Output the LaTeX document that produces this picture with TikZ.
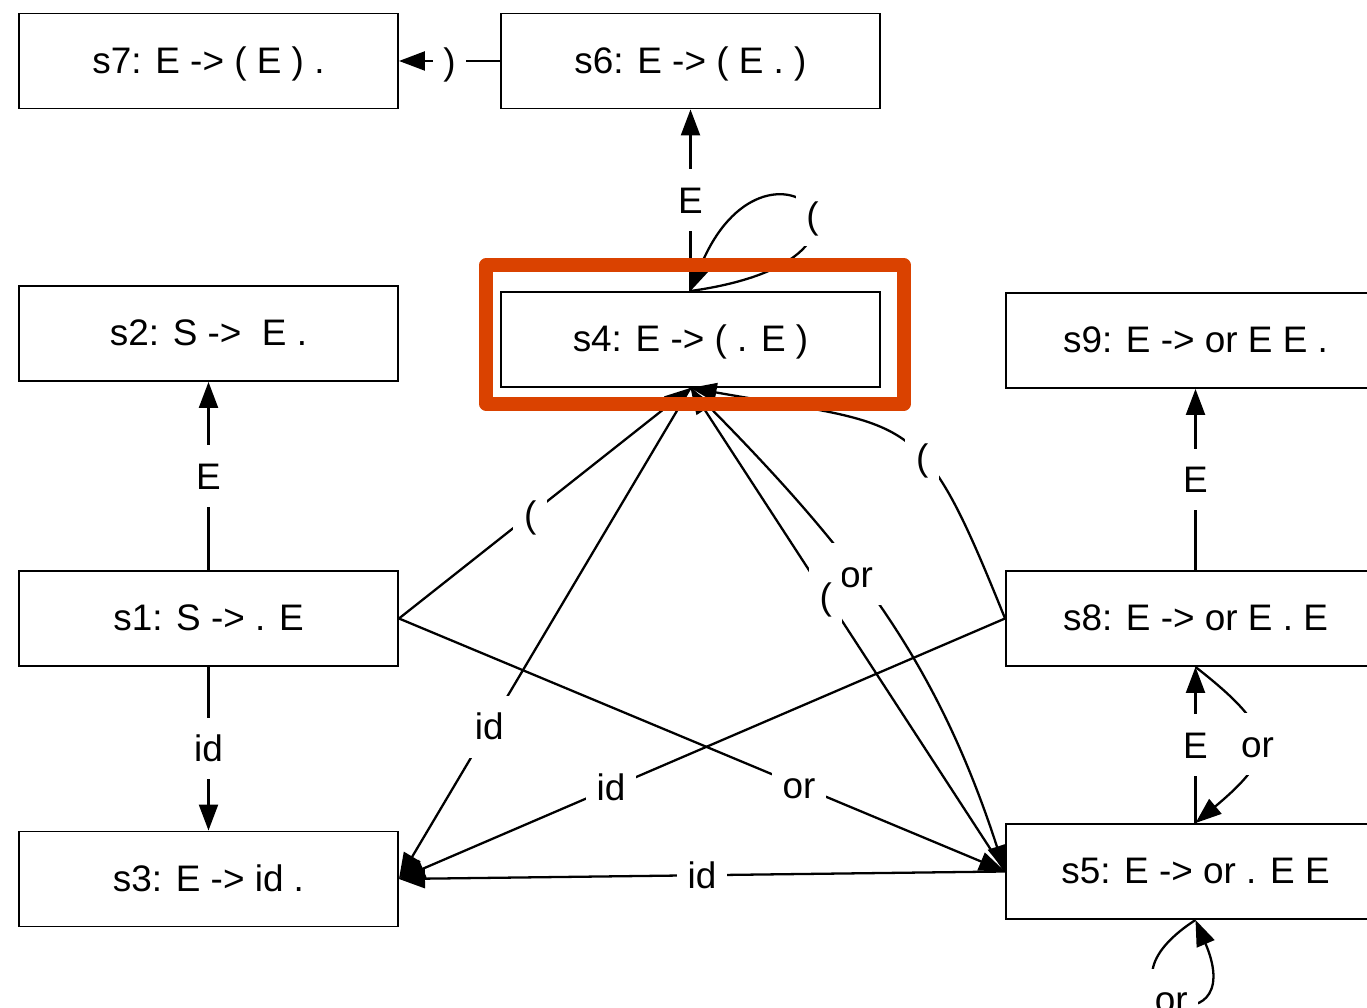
\documentclass[tikz,border=0pt]{standalone}
\usepackage{fontspec}
\setmainfont{Liberation Sans}
\usepackage{xcolor}
\usepackage{tikz}
\usetikzlibrary{arrows.meta}

\definecolor{markred}{RGB}{218,66,0}

\begin{document}
\begin{tikzpicture}[
    font=\fontsize{21pt}{25pt}\selectfont,
    state/.style={draw, fill=white, line width=1.1pt, minimum width=7.58cm,
                  minimum height=1.9cm, inner sep=0pt,
                  text height=18pt, text depth=4pt},
    arr/.style={-{Triangle[length=5.2mm, width=3.8mm]}, line width=1.3pt},
    lab/.style={fill=white, inner xsep=6pt, inner ysep=9pt,
                text height=16pt, text depth=1pt},
    hilite/.style={draw=markred, line width=7.6pt, line join=round},
  ]

  \useasboundingbox (0,0) rectangle (27.34,20.16);

  % -- Top row
  \node[state] (s7) at (4.17, 18.94) {s7: E -> ( E ) .};
  \node[state] (s6) at (13.81, 18.94) {s6: E -> ( E . )};

  % -- Second row
  \node[state] (s2) at (4.17, 13.49) {s2: S ->~~E .};
  \node[state] (s4) at (13.81, 13.37) {s4: E -> ( . E )};
  \node[state] (s9) at (23.91, 13.35) {s9: E -> or E E .};

  % -- Third row
  \node[state] (s1) at (4.17, 7.79) {s1: S -> . E};
  \node[state] (s8) at (23.91, 7.79) {s8: E -> or E . E};

  % -- Bottom row
  \node[state] (s3) at (4.17, 2.58) {s3: E -> id .};
  \node[state] (s5) at (23.91, 2.73) {s5: E -> or . E E};

  % -- Out of s1
  \draw[arr] (s1) -- node[lab] {E} (s2);
  \draw[arr] (s1) -- node[lab] {id} (s3);
  \draw[arr] (s1.east) -- node[lab, pos=.45] {(} (s4.south);
  \draw[arr] (s1.east) -- node[lab, pos=.66] {or} (s5.west);

  % -- Out of s4
  \draw[arr] (s4) -- node[lab] {E} (s6);
  \draw[arr] (s4.north) to[out=8, in=68, out min distance=4.8cm,
                           in min distance=4cm]
    node[lab, pos=.45] {(} (s4.north);
  \draw[arr] (s4.south) -- node[lab, pos=.69] {id} (s3.east);
  \draw[arr] (s4.south) to[out=-45, in=108] node[lab, pos=.42] {or} (s5.west);

  % -- Out of s5
  \draw[arr] (s5.west) -- node[lab, pos=.57] {(} (s4.south);
  \draw[arr] (s5.west) -- node[lab] {id} (s3.east);
  \draw[arr] (s5) -- node[lab] {E} (s8);
  \draw[arr] (s5.south) to[out=213, in=-67, min distance=2.9cm]
    node[lab] {or} (s5.south);

  % -- Out of s8
  \draw[arr] (s8) -- node[lab] {E} (s9);
  \draw[arr] (s8.south) to[out=-38, in=40, looseness=1.75]
    node[lab] {or} (s5.north);
  \draw[arr] (s8.west) to[out=112, in=-10, looseness=1.5]
    node[lab, pos=.4] {(} (s4.south);
  \draw[arr] (s8.west) -- node[lab, pos=.65] {id} (s3.east);

  % -- Out of s6
  \draw[arr] (s6) -- node[lab] {)} (s7);

  % -- Hand-drawn mark round s4
  \draw[hilite] ([shift={(-0.28,-0.32)}]s4.south west) rectangle
                ([shift={(0.46,0.52)}]s4.north east);

\end{tikzpicture}
\end{document}
